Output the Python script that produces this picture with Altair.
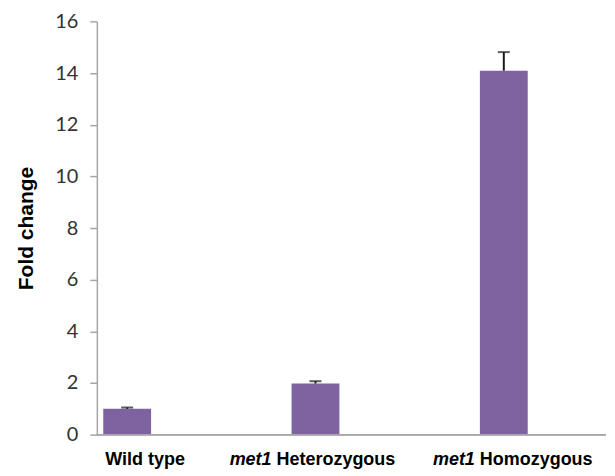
import altair as alt
import pandas as pd

# ---- data ----
categories = ["Wild type", "met1 Heterozygous", "met1 Homozygous"]
fold_change = [1.0, 1.98, 14.09]
error_up = [0.05, 0.09, 0.72]
label_italic = ["", "met1", "met1"]
label_plain = ["Wild type", "Heterozygous", "Homozygous"]
y_ticks = [0, 2, 4, 6, 8, 10, 12, 14, 16]

df = pd.DataFrame({
    "cat": categories,
    "fc": fold_change,
    "err": error_up,
    "it": label_italic,
    "pl": label_plain,
})
df["top"] = df["fc"] + df["err"]

W, H = 438, 414
BAR = "#7F63A1"
AXIS = "#A6A6A6"

xenc = alt.X("cat:N", sort=categories, axis=None,
             scale=alt.Scale(paddingInner=0.746, paddingOuter=0.034))
yscale = alt.Scale(domain=[0, 16], nice=False, zero=True)
yaxis = alt.Axis(values=y_ticks, title="Fold change", grid=False,
                 domainColor=AXIS, domainWidth=1.5, tickColor=AXIS, tickWidth=1.5,
                 tickSize=7, labelPadding=12, labelFont="Lato", labelFontSize=20,
                 labelColor="#333333", titleFont="Liberation Sans", titleFontSize=21,
                 titleFontWeight="bold", titleColor="#000000", titlePadding=18)

base = alt.Chart(df)

bars = base.mark_bar(color=BAR).encode(
    x=xenc, y=alt.Y("fc:Q", scale=yscale, axis=yaxis))

err_line = base.mark_rule(color="#1a1a1a", strokeWidth=2).encode(
    x=xenc, y=alt.Y("fc:Q", scale=yscale, axis=yaxis), y2="top:Q")

err_cap = base.mark_tick(color="#1a1a1a", size=12, thickness=2).encode(
    x=xenc, y=alt.Y("top:Q", scale=yscale, axis=yaxis))

baseline = base.mark_rule(color=AXIS, strokeWidth=1.5).encode(
    y=alt.datum(0), x=alt.value(0), x2=alt.value(510))

txt = dict(font="Liberation Sans", fontSize=18, fontWeight="bold",
           baseline="alphabetic", color="#000000")
ypos = alt.value(H + 30)

wt = base.transform_filter(alt.datum.cat == "Wild type").mark_text(
    align="center", dx=18, **txt).encode(x=xenc, y=ypos, text="pl:N")
het_i = base.transform_filter(alt.datum.cat == "met1 Heterozygous").mark_text(
    align="right", dx=-44, fontStyle="italic", **txt).encode(x=xenc, y=ypos, text="it:N")
het_p = base.transform_filter(alt.datum.cat == "met1 Heterozygous").mark_text(
    align="left", dx=-39, **txt).encode(x=xenc, y=ypos, text="pl:N")
hom_i = base.transform_filter(alt.datum.cat == "met1 Homozygous").mark_text(
    align="right", dx=-29, fontStyle="italic", **txt).encode(x=xenc, y=ypos, text="it:N")
hom_p = base.transform_filter(alt.datum.cat == "met1 Homozygous").mark_text(
    align="left", dx=-24, **txt).encode(x=xenc, y=ypos, text="pl:N")

chart = alt.layer(bars, err_line, err_cap, baseline, wt, het_i, het_p, hom_i, hom_p).properties(
    width=W, height=H,
    padding={"left": 7, "top": 3, "right": 0, "bottom": 0},
    background="white",
).configure_view(stroke=None)

chart.save("out.html", embed_options={"renderer": "svg", "actions": False})
